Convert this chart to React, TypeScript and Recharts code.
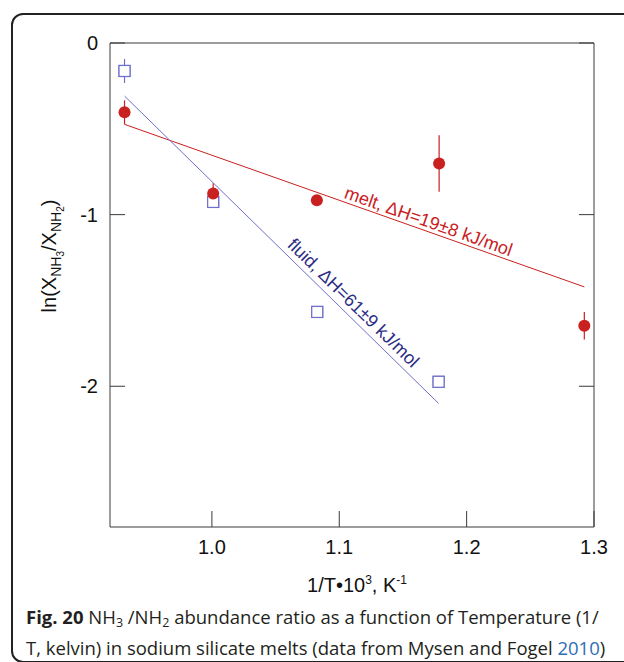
import React from 'react';
import { ComposedChart, Scatter, XAxis, YAxis, ErrorBar, ReferenceDot } from 'recharts';

// values: 1/T*10^3 (K^-1) vs ln(X_NH3/X_NH2)
const meltX = [0.9314, 1.001, 1.0824, 1.1784, 1.2924];
const meltLn = [-0.404, -0.877, -0.916, -0.702, -1.648];
const meltErr = [0.07, 0.06, 0, 0.165, 0.08];

const fluidX = [0.9314, 1.001, 1.0827, 1.178];
const fluidLn = [-0.163, -0.926, -1.567, -1.974];
const fluidErr = [0.07, 0, 0, 0];

// regression lines (end points)
const meltFitX = [0.9314, 1.2924];
const meltFitY = [-0.474, -1.421];
const fluidFitX = [0.9314, 1.178];
const fluidFitY = [-0.309, -2.1];

// where the line labels sit (a point on each fit line)
const meltLabelAt = { x: 1.1675, y: -1.094 };
const fluidLabelAt = { x: 1.1045, y: -1.565 };

const xTicks = [1.0, 1.1, 1.2, 1.3];
const yTicks = [0, -1, -2];
const xDomain = [0.92, 1.3];
const yDomain = [-2.82, 0];

const RED = '#c8211f';
const BLUE = '#6f6fcc';
const NAVY = '#2d2d86';
const AXIS = '#3a3a3a';
const FONT = '"Liberation Sans", Arial, Helvetica, sans-serif';

const melt = meltX.map((x, i) => ({ x, y: meltLn[i], err: meltErr[i] }));
const fluid = fluidX.map((x, i) => ({ x, y: fluidLn[i], err: fluidErr[i] }));
const meltFit = meltFitX.map((x, i) => ({ x, y: meltFitY[i] }));
const fluidFit = fluidFitX.map((x, i) => ({ x, y: fluidFitY[i] }));

const LeftTick = (props: any) => {
  const { x, y, payload } = props;
  const ax = x + 12;
  return (
    <g>
      <line x1={ax} x2={ax + 15} y1={y} y2={y} stroke={AXIS} strokeWidth={1} />
      <text x={x} y={y + 7} textAnchor="end" fontSize={20} fontFamily={FONT} fill="#111">
        {payload.value === 0 ? '0' : String(payload.value)}
      </text>
    </g>
  );
};

const RightTick = (props: any) => {
  const { x, y } = props;
  return <line x1={x - 15} x2={x} y1={y} y2={y} stroke={AXIS} strokeWidth={1} />;
};

const BottomTick = (props: any) => {
  const { x, y, payload } = props;
  return (
    <g>
      <line x1={x} x2={x} y1={y} y2={y - 16} stroke={AXIS} strokeWidth={1} />
      <text x={x} y={y + 27} textAnchor="middle" fontSize={20} fontFamily={FONT} fill="#111">
        {Number(payload.value).toFixed(1)}
      </text>
    </g>
  );
};

const NoMark = () => <g />;
const Dot = (props: any) => <circle cx={props.cx} cy={props.cy} r={6} fill={RED} />;
const Square = (props: any) => (
  <rect x={props.cx - 5.5} y={props.cy - 5.5} width={11} height={11} fill="#fff" stroke={BLUE} strokeWidth={1.2} />
);

const lineLabel = (text: string, angle: number, color: string, lift: number) => (props: any) => {
  const vb = props.viewBox || {};
  const cx = (vb.x ?? 0) + (vb.width ?? 0) / 2;
  const cy = (vb.y ?? 0) + (vb.height ?? 0) / 2;
  return (
    <text
      x={cx}
      y={cy}
      dy={-lift}
      textAnchor="middle"
      fontSize={18}
      fontFamily={FONT}
      fill={color}
      transform={`rotate(${angle}, ${cx}, ${cy})`}
    >
      {text}
    </text>
  );
};

const YLabel = () => (
  <text transform="translate(56, 256) rotate(-90)" textAnchor="middle" fontSize={20} fontFamily={FONT} fill="#111">
    <tspan>ln(X</tspan>
    <tspan fontSize={14} dy={5}>NH</tspan>
    <tspan fontSize={10} dy={3}>3</tspan>
    <tspan dy={-8}>/X</tspan>
    <tspan fontSize={14} dy={5}>NH</tspan>
    <tspan fontSize={10} dy={3}>2</tspan>
    <tspan dy={-8}>)</tspan>
  </text>
);

export default function App() {
  return (
    <div style={{ position: 'absolute', left: 0, top: 0, width: 624, height: 662, background: '#fff', overflow: 'hidden' }}>
      <div
        style={{
          position: 'absolute',
          left: 11,
          top: 13,
          width: 700,
          height: 650,
          boxSizing: 'border-box',
          border: '2px solid #222',
          borderRadius: 12,
        }}
      />
      <div style={{ position: 'absolute', left: 0, top: 0 }}>
        <ComposedChart width={624} height={662} margin={{ top: 42, right: 20, left: 60, bottom: 75 }}>
          <XAxis
            xAxisId="top"
            orientation="top"
            type="number"
            dataKey="x"
            domain={xDomain}
            allowDataOverflow
            height={1}
            tick={false}
            tickLine={false}
            axisLine={{ stroke: AXIS }}
          />
          <XAxis
            type="number"
            dataKey="x"
            domain={xDomain}
            ticks={xTicks}
            allowDataOverflow
            height={60}
            tickSize={0}
            tickMargin={0}
            tickLine={false}
            tick={<BottomTick />}
            axisLine={{ stroke: AXIS }}
            label={{
              value: '',
              content: () => (
                <text x={357} y={592} textAnchor="middle" fontSize={20} fontFamily={FONT} fill="#111">
                  <tspan>1/T•10</tspan>
                  <tspan fontSize={12} dy={-8}>3</tspan>
                  <tspan dy={8}>, K</tspan>
                  <tspan fontSize={12} dy={-8}>-1</tspan>
                </text>
              ),
            }}
          />
          <YAxis
            yAxisId="left"
            type="number"
            domain={yDomain}
            ticks={yTicks}
            allowDataOverflow
            width={50}
            tickSize={0}
            tickMargin={12}
            tickLine={false}
            tick={<LeftTick />}
            axisLine={{ stroke: AXIS }}
            label={{ value: '', content: () => <YLabel /> }}
          />
          <YAxis
            yAxisId="right"
            orientation="right"
            type="number"
            domain={yDomain}
            ticks={yTicks}
            allowDataOverflow
            width={10}
            tickSize={0}
            tickMargin={0}
            tickLine={false}
            tick={<RightTick />}
            axisLine={{ stroke: AXIS }}
          />

          {/* fit lines first so the symbols sit on top */}
          <Scatter
            yAxisId="left"
            data={meltFit}
            dataKey="y"
            line={{ stroke: RED, strokeWidth: 1 }}
            shape={<NoMark />}
            isAnimationActive={false}
          />
          <Scatter
            yAxisId="left"
            data={fluidFit}
            dataKey="y"
            line={{ stroke: BLUE, strokeWidth: 1 }}
            shape={<NoMark />}
            isAnimationActive={false}
          />

          <Scatter yAxisId="left" data={fluid} dataKey="y" shape={<Square />} isAnimationActive={false}>
            <ErrorBar dataKey="err" direction="y" width={0} stroke={BLUE} strokeWidth={1.2} />
          </Scatter>
          <Scatter yAxisId="left" data={fluid} dataKey="y" shape={<Square />} isAnimationActive={false} />
          <Scatter yAxisId="left" data={melt} dataKey="y" shape={<Dot />} isAnimationActive={false}>
            <ErrorBar dataKey="err" direction="y" width={0} stroke={RED} strokeWidth={1.2} />
          </Scatter>

          <ReferenceDot
            yAxisId="left"
            x={meltLabelAt.x}
            y={meltLabelAt.y}
            r={0}
            fill="none"
            stroke="none"
            label={lineLabel('melt, ΔH=19±8 kJ/mol', 19.4, RED, 4)}
          />
          <ReferenceDot
            yAxisId="left"
            x={fluidLabelAt.x}
            y={fluidLabelAt.y}
            r={0}
            fill="none"
            stroke="none"
            label={lineLabel('fluid, ΔH=61±9 kJ/mol', 44.3, NAVY, 6)}
          />
        </ComposedChart>
      </div>
      <div
        style={{
          position: 'absolute',
          left: 26,
          top: 604,
          width: 600,
          fontFamily: '"Open Sans", sans-serif',
          fontSize: 18.5,
          lineHeight: '25px',
          color: '#231f20',
          whiteSpace: 'nowrap',
        }}
      >
        <div>
          <b>Fig. 20</b> NH<sub style={{ fontSize: 12.5, verticalAlign: -3 }}>3</sub> /NH
          <sub style={{ fontSize: 12.5, verticalAlign: -3 }}>2</sub> abundance ratio as a function of Temperature (1/
        </div>
        <div>
          T, kelvin) in sodium silicate melts (data from Mysen and Fogel <span style={{ color: '#2f6db5' }}>2010</span>)
        </div>
      </div>
    </div>
  );
}
